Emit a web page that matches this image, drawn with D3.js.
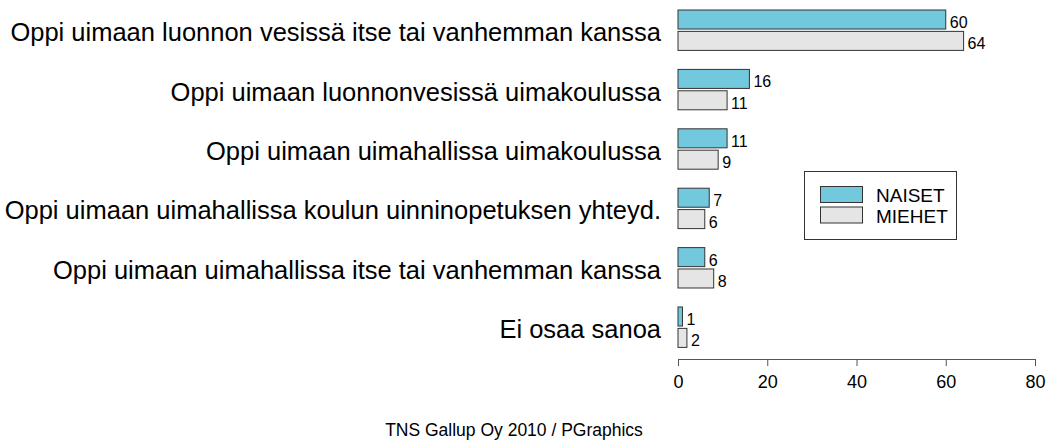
<!DOCTYPE html>
<html>
<head>
<meta charset="utf-8">
<script src="https://cdn.jsdelivr.net/npm/d3@7"></script>
<style>
  body { margin: 0; background: #fff; }
  text { font-family: "Liberation Sans", Arial, sans-serif; fill: #000; }
</style>
</head>
<body>
<div id="chart"></div>
<script>
// categories top to bottom
const categories = [
  "Oppi uimaan luonnon vesissä itse tai vanhemman kanssa",
  "Oppi uimaan luonnonvesissä uimakoulussa",
  "Oppi uimaan uimahallissa uimakoulussa",
  "Oppi uimaan uimahallissa koulun uinninopetuksen yhteyd.",
  "Oppi uimaan uimahallissa itse tai vanhemman kanssa",
  "Ei osaa sanoa"
];
const naiset = [60, 16, 11, 7, 6, 1];
const miehet = [64, 11, 9, 6, 8, 2];
const seriesNames = ["NAISET", "MIEHET"];
const seriesColors = ["#72c8dc", "#e5e5e5"];
const xTicks = [0, 20, 40, 60, 80];
const footer = "TNS Gallup Oy 2010 / PGraphics";

const width = 1049, height = 443;

const svg = d3.select("#chart").append("svg")
  .attr("width", width)
  .attr("height", height);

const x = d3.scaleLinear().domain([0, 80]).range([678, 1035]);

const step = 59.4;
const y = d3.scaleBand()
  .domain(categories)
  .range([0.5, 0.5 + step * categories.length])
  .paddingInner(0.32)
  .paddingOuter(0.16);

const ySub = d3.scaleBand()
  .domain(seriesNames)
  .range([0, y.bandwidth()])
  .paddingInner(0.11);

const rows = categories.map((c, i) => ({ cat: c, vals: [naiset[i], miehet[i]] }));

// bars
const groups = svg.append("g")
  .selectAll("g")
  .data(rows)
  .enter()
  .append("g")
  .attr("transform", d => "translate(0," + y(d.cat) + ")");

groups.selectAll("rect")
  .data(d => d.vals.map((v, j) => ({ v: v, s: seriesNames[j], j: j })))
  .enter()
  .append("rect")
  .attr("x", x(0))
  .attr("y", d => ySub(d.s))
  .attr("width", d => x(d.v) - x(0))
  .attr("height", ySub.bandwidth())
  .attr("fill", d => seriesColors[d.j])
  .attr("stroke", "#333")
  .attr("stroke-width", 1);

groups.selectAll("text.val")
  .data(d => d.vals.map((v, j) => ({ v: v, s: seriesNames[j] })))
  .enter()
  .append("text")
  .attr("class", "val")
  .attr("x", d => x(d.v) + 4)
  .attr("y", d => ySub(d.s) + ySub.bandwidth() / 2 + 8.5)
  .style("font-size", "16px")
  .text(d => d.v);

// category labels
svg.append("g")
  .selectAll("text")
  .data(categories)
  .enter()
  .append("text")
  .attr("x", 661)
  .attr("y", d => y(d) + y.bandwidth() / 2 + 11)
  .style("text-anchor", "end")
  .style("font-size", "25.5px")
  .text(d => d);

// x axis
const xAxis = d3.axisBottom(x).tickValues(xTicks).tickSize(7).tickPadding(9);
const axisG = svg.append("g")
  .attr("transform", "translate(0,359)")
  .call(xAxis);
axisG.select(".domain").attr("stroke", "#555").attr("d", "M" + x(0) + ",0.5H" + x(80));
axisG.selectAll(".tick line").attr("stroke", "#555");
axisG.selectAll(".tick text")
  .style("font-size", "18px")
  .style("font-family", "Liberation Sans, Arial, sans-serif")
  .attr("fill", "#000");

// legend
const legend = svg.append("g");
legend.append("rect")
  .attr("x", 804.5).attr("y", 171.5)
  .attr("width", 152).attr("height", 68)
  .attr("fill", "#fff").attr("stroke", "#333");
seriesNames.forEach((s, i) => {
  legend.append("rect")
    .attr("x", 820.5).attr("y", 186.5 + i * 20.5)
    .attr("width", 42).attr("height", 16)
    .attr("fill", seriesColors[i]).attr("stroke", "#333");
  legend.append("text")
    .attr("x", 876).attr("y", 202 + i * 20.5)
    .style("font-size", "19px")
    .text(s);
});

// footer
svg.append("text")
  .attr("x", 514).attr("y", 436)
  .style("text-anchor", "middle")
  .style("font-size", "17.5px")
  .text(footer);
</script>
</body>
</html>
